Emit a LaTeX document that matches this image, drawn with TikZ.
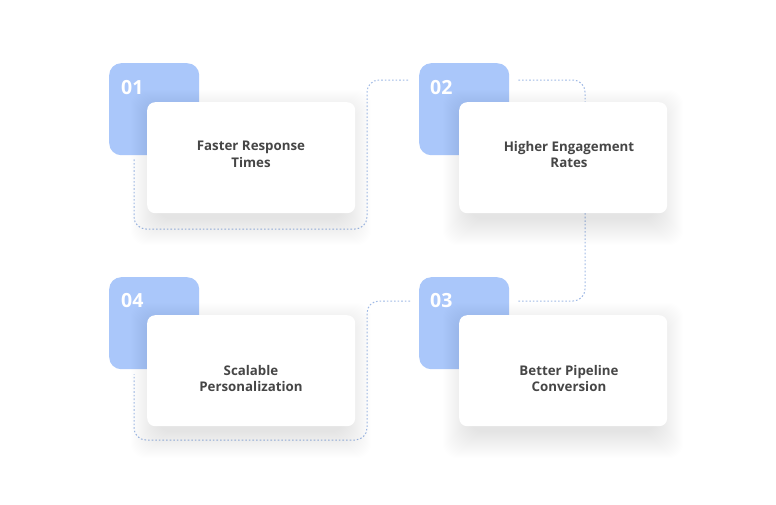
\documentclass[tikz,border=0pt]{standalone}
\usepackage{fontspec}
\setmainfont{Open Sans}
\usetikzlibrary{calc}
\definecolor{tagblue}{HTML}{AAC7FA}
\definecolor{linecol}{HTML}{A0BAE6}
\definecolor{txtcol}{HTML}{464646}
\tikzset{
  tagbox/.style={fill=tagblue, rounded corners=12pt, minimum width=90pt, minimum height=92pt, anchor=north west, inner sep=0pt},
  cardbox/.style={fill=white, rounded corners=8pt, minimum width=208pt, minimum height=111pt, anchor=north west, inner sep=0pt},
  numtxt/.style={anchor=west, text=white, font=\fontsize{19.5}{22}\selectfont\bfseries, inner sep=0pt},
  cardtxt/.style={align=center, text=txtcol, font=\fontsize{13.3}{16.5}\selectfont\bfseries, inner sep=0pt},
  conn/.style={draw=linecol, line width=1pt, dash pattern=on 1.6pt off 2pt, rounded corners=12pt},
  shadowlayer/.style={fill=black, fill opacity=0.0055, rounded corners=14pt}
}
\begin{document}
\begin{tikzpicture}[x=1pt,y=-1pt]
\useasboundingbox (0,0) rectangle (776,504);
\fill[white] (0,0) rectangle (776,504);
% tags
\node[tagbox] (t1) at (109,63) {};
\node[tagbox] (t2) at (419,63) {};
\node[tagbox] (t3) at (419,277) {};
\node[tagbox] (t4) at (109,277) {};
% connectors
\draw[conn] ([shift={(25pt,-4pt)}]t1.south west) -- (134,229) -- (367,229) -- (367,80) -- ([shift={(-9pt,-17pt)}]t2.north west);
\draw[conn] ([shift={(9pt,-17pt)}]t2.north east) -- (585,80) -- (585,301) -- ([shift={(9pt,-24pt)}]t3.north east);
\draw[conn] ([shift={(-9pt,-24pt)}]t3.north west) -- (367,301) -- (367,440) -- (134,440) -- ([shift={(25pt,-5pt)}]t4.south west);
% numbers
\node[numtxt] (n1) at (121,88) {01};
\node[numtxt] (n2) at (430,88) {02};
\node[numtxt] (n3) at (430,301) {03};
\node[numtxt] (n4) at (121,301) {04};
% shadows
\foreach \cx/\cy in {147/102, 459/102, 459/315, 147/315}{
  \foreach \e in {0,1,...,26}{
    \fill[shadowlayer] (\cx+10-\e, \cy+14-\e) rectangle (\cx+198+\e, \cy+111+6+\e);
  }
}
% cards
\node[cardbox] (c1) at (147,102) {};
\node[cardbox] (c2) at (459,102) {};
\node[cardbox] (c3) at (459,315) {};
\node[cardbox] (c4) at (147,315) {};
\node[cardtxt] (l1) at (251,154.5) {Faster Response\\Times};
\node[cardtxt] (l2) at (569,154.5) {Higher Engagement\\Rates};
\node[cardtxt] (l3) at (569,378.5) {Better Pipeline\\Conversion};
\node[cardtxt] (l4) at (251,378.5) {Scalable\\Personalization};
\end{tikzpicture}
\end{document}
